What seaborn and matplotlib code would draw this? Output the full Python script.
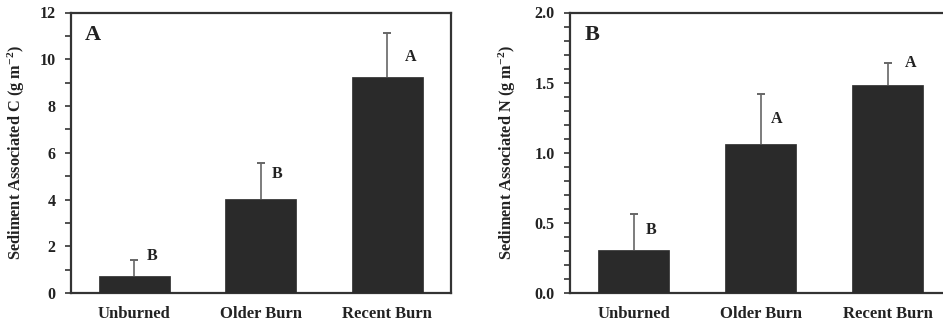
import numpy as np
import pandas as pd
import matplotlib
matplotlib.use("Agg")
import matplotlib.pyplot as plt
from matplotlib.ticker import MultipleLocator
import seaborn as sns

# ---- data ----
categories = ["Unburned", "Older Burn", "Recent Burn"]
carbon_mean = [0.71, 4.01, 9.22]
carbon_se = [0.71, 1.54, 1.91]
nitrogen_mean = [0.31, 1.063, 1.48]
nitrogen_se = [0.25, 0.356, 0.16]
carbon_letters = ["B", "B", "A"]
carbon_letter_y = [1.57, 5.08, 10.1]
nitrogen_letters = ["B", "A", "A"]
nitrogen_letter_y = [0.45, 1.24, 1.64]

sns.set_style("ticks")
plt.rcParams["font.family"] = ["Liberation Serif", "DejaVu Serif"]
plt.rcParams["font.weight"] = "bold"
plt.rcParams["mathtext.fontset"] = "custom"
plt.rcParams["mathtext.rm"] = "Liberation Serif:bold"
plt.rcParams["mathtext.it"] = "Liberation Serif:bold"
plt.rcParams["mathtext.bf"] = "Liberation Serif:bold"
plt.rcParams["mathtext.default"] = "rm"

BAR = "#2a2a2a"
SPINE = "#333333"
ERR = "#666666"
TXT = "#222222"
LETTER_DX = [0.14, 0.13, 0.18]

W, H = 943, 325
fig = plt.figure(figsize=(W / 100, H / 100), dpi=100)

def panel(rect, means, ses, letters, letter_y, ylim, major, minor, ylabel,
          panel_letter, label_x, fmt):
    ax = fig.add_axes(rect)
    df = pd.DataFrame({"cat": categories, "val": means})
    sns.barplot(data=df, x="cat", y="val", color=BAR, saturation=1,
                width=0.56, ax=ax, errorbar=None, edgecolor=BAR,
                linewidth=0.5, zorder=3)
    xs = np.arange(len(categories))
    tops = np.asarray(means) + np.asarray(ses)
    ax.vlines(xs, means, tops, color=ERR, linewidth=1.2, zorder=2)
    ax.scatter(xs, tops, marker="_", s=40, color=ERR, linewidths=1.4,
               zorder=2)
    ax.set_xlim(-0.5, 2.5)
    ax.set_ylim(*ylim)
    ax.yaxis.set_major_locator(MultipleLocator(major))
    ax.yaxis.set_minor_locator(MultipleLocator(minor))
    ax.yaxis.set_major_formatter(matplotlib.ticker.FormatStrFormatter(fmt))
    for s in ax.spines.values():
        s.set_color(SPINE)
        s.set_linewidth(1.6)
    ax.tick_params(axis="y", which="both", direction="out", length=4,
                   width=1.2, color=SPINE, labelsize=11.5, pad=7,
                   labelcolor=TXT)
    ax.tick_params(axis="x", length=0, labelsize=12, pad=9, labelcolor=TXT)
    ax.set_xlabel("")
    ax.set_ylabel(ylabel, fontsize=11.8, fontweight="bold", color=TXT)
    ax.yaxis.set_label_coords(label_x, 0.5)
    for lab in ax.get_xticklabels() + ax.get_yticklabels():
        lab.set_fontweight("bold")
    for i, (lt, ly) in enumerate(zip(letters, letter_y)):
        ax.text(i + LETTER_DX[i], ly, lt, ha="center", va="center",
                fontsize=11.5, fontweight="bold", color=TXT)
    ax.text(0.058, 0.92, panel_letter, transform=ax.transAxes, ha="center",
            va="center", fontsize=16, fontweight="bold", color=TXT)
    return ax

bottom = 1 - 293 / H
height = (293 - 12.5) / H
panel([70.7 / W, bottom, 380 / W, height], carbon_mean, carbon_se,
      carbon_letters, carbon_letter_y, (0, 12), 2, 1,
      r"Sediment Associated C (g m$^{-2}$)", "A", -0.115, "%d")
panel([570 / W, bottom, 381 / W, height], nitrogen_mean, nitrogen_se,
      nitrogen_letters, nitrogen_letter_y, (0, 2.0), 0.5, 0.1,
      r"Sediment Associated N (g m$^{-2}$)", "B", -0.136, "%.1f")

fig.savefig("out.png", dpi=100)
